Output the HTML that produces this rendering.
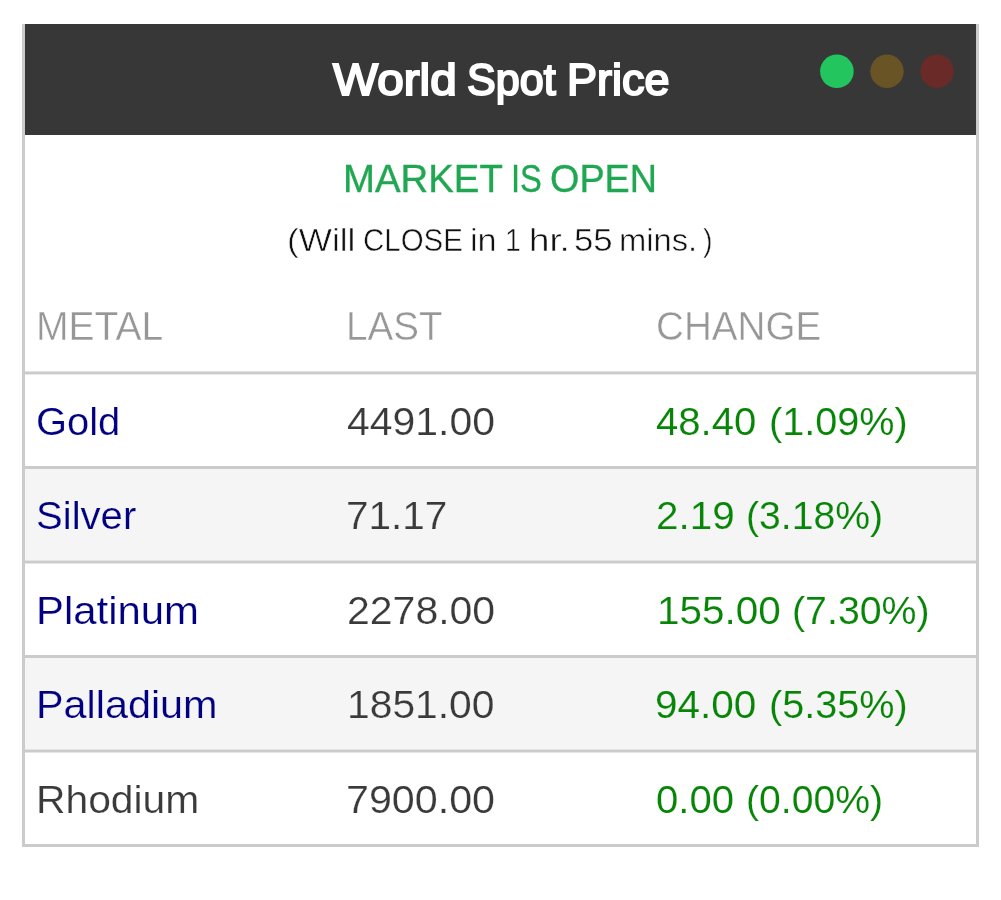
<!DOCTYPE html>
<html lang="en">
<head>
<meta charset="utf-8">
<title>World Spot Price</title>
<style>
html,body{margin:0;padding:0;background:#fff;}
body{width:1001px;height:900px;position:relative;overflow:hidden;font-family:"Liberation Sans",sans-serif;}
svg.bg{position:absolute;left:0;top:0;width:1001px;height:900px;display:block;}
.t{position:absolute;white-space:nowrap;line-height:1;transform-origin:0 0;}
</style>
</head>
<body>
<svg class="bg" width="1001" height="900" viewBox="0 0 1001 900">
<!-- striped rows -->
<rect x="25" y="469" width="951" height="91.5" fill="#f5f5f5"/>
<rect x="25" y="658" width="951" height="91.5" fill="#f5f5f5"/>
<!-- outer border: left, right, bottom -->
<rect x="22" y="24" width="3" height="823" fill="#cbcbcb"/>
<rect x="976" y="24" width="3" height="823" fill="#cbcbcb"/>
<rect x="22" y="844" width="957" height="3" fill="#cbcbcb"/>
<!-- row dividers -->
<rect x="25" y="371.45" width="951" height="2.95" fill="#cbcbcb"/>
<rect x="25" y="466" width="951" height="3" fill="#cbcbcb"/>
<rect x="25" y="560.5" width="951" height="3" fill="#cbcbcb"/>
<rect x="25" y="655" width="951" height="3" fill="#cbcbcb"/>
<rect x="25" y="749.5" width="951" height="3" fill="#cbcbcb"/>
<!-- title bar -->
<rect x="25" y="24" width="951" height="111" fill="#373737"/>
<!-- status lights -->
<circle cx="836.9" cy="71.3" r="16.8" fill="#22c55e"/>
<circle cx="887" cy="71.3" r="16.7" fill="#695426"/>
<circle cx="937" cy="71.3" r="16.7" fill="#6a2a28"/>
</svg>
<header class="title">
<span class="t" style="left:333.08px;top:57.50px;font-size:44px;font-weight:400;color:#fff;transform:scaleX(1.0843);-webkit-text-stroke:2.0px #fff">World</span>
<span class="t" style="left:466.69px;top:57.50px;font-size:44px;font-weight:400;color:#fff;transform:scaleX(0.9797);-webkit-text-stroke:2.0px #fff">Spot</span>
<span class="t" style="left:566.93px;top:57.50px;font-size:44px;font-weight:400;color:#fff;transform:scaleX(1.0223);-webkit-text-stroke:2.0px #fff">Price</span>
</header>
<div class="market-status">
<span class="t" style="left:343.25px;top:159.05px;font-size:39.3px;font-weight:400;color:#1fa751;transform:scaleX(0.9762);-webkit-text-stroke:0.35px #1fa751">MARKET</span>
<span class="t" style="left:511.38px;top:159.05px;font-size:39.3px;font-weight:400;color:#1fa751;transform:scaleX(0.8322);-webkit-text-stroke:0.35px #1fa751">IS</span>
<span class="t" style="left:549.93px;top:159.05px;font-size:39.3px;font-weight:400;color:#1fa751;transform:scaleX(0.9614);-webkit-text-stroke:0.35px #1fa751">OPEN</span>
</div>
<div class="market-countdown">
<span class="t" style="left:287.16px;top:224.91px;font-size:30.5px;font-weight:400;color:#111;transform:scaleX(1.1530);-webkit-text-stroke:0.5px #fff">(Will</span>
<span class="t" style="left:362.54px;top:224.91px;font-size:30.5px;font-weight:400;color:#111;transform:scaleX(0.9659);-webkit-text-stroke:0.5px #fff">CLOSE</span>
<span class="t" style="left:469.72px;top:224.91px;font-size:30.5px;font-weight:400;color:#111;transform:scaleX(1.1204);-webkit-text-stroke:0.5px #fff">in</span>
<span class="t" style="left:505.46px;top:224.91px;font-size:30.5px;font-weight:400;color:#111;transform:scaleX(0.9364);-webkit-text-stroke:0.5px #fff">1</span>
<span class="t" style="left:529.09px;top:224.91px;font-size:30.5px;font-weight:400;color:#111;transform:scaleX(1.2031);-webkit-text-stroke:0.5px #fff">hr.</span>
<span class="t" style="left:574.38px;top:224.91px;font-size:30.5px;font-weight:400;color:#111;transform:scaleX(1.1406);-webkit-text-stroke:0.5px #fff">55</span>
<span class="t" style="left:619.37px;top:224.91px;font-size:30.5px;font-weight:400;color:#111;transform:scaleX(1.0733);-webkit-text-stroke:0.5px #fff">mins.</span>
<span class="t" style="left:703.14px;top:224.91px;font-size:30.5px;font-weight:400;color:#111;transform:scaleX(0.9450);-webkit-text-stroke:0.5px #fff">)</span>
</div>
<div class="thead">
<span class="t" style="left:36.08px;top:306.21px;font-size:40.8px;font-weight:400;color:#979797;transform:scaleX(0.9569);-webkit-text-stroke:0.45px #fff">METAL</span>
<span class="t" style="left:345.92px;top:306.21px;font-size:40.8px;font-weight:400;color:#979797;transform:scaleX(0.9464);-webkit-text-stroke:0.45px #fff">LAST</span>
<span class="t" style="left:655.57px;top:306.21px;font-size:40.8px;font-weight:400;color:#979797;transform:scaleX(0.9466);-webkit-text-stroke:0.45px #fff">CHANGE</span>
</div>
<div class="row">
<span class="t" style="left:36.33px;top:401.60px;font-size:39px;font-weight:400;color:#000080;transform:scaleX(1.0228);-webkit-text-stroke:0.2px #fff">Gold</span>
<span class="t" style="left:346.54px;top:401.60px;font-size:39px;font-weight:400;color:#3a3a3a;transform:scaleX(1.0493);-webkit-text-stroke:0.2px #fff">4491.00</span>
<span class="t" style="left:655.67px;top:401.60px;font-size:39px;font-weight:400;color:#078507;transform:scaleX(1.0272);-webkit-text-stroke:0.15px #fff">48.40</span>
<span class="t" style="left:768.59px;top:401.60px;font-size:39px;font-weight:400;color:#078507;transform:scaleX(1.0157);-webkit-text-stroke:0.15px #fff">(1.09%)</span>
</div>
<div class="row">
<span class="t" style="left:36.19px;top:496.10px;font-size:39px;font-weight:400;color:#000080;transform:scaleX(1.0278);-webkit-text-stroke:0.2px #f5f5f5">Silver</span>
<span class="t" style="left:345.78px;top:496.10px;font-size:39px;font-weight:400;color:#3a3a3a;transform:scaleX(1.0386);-webkit-text-stroke:0.2px #f5f5f5">71.17</span>
<span class="t" style="left:655.56px;top:496.10px;font-size:39px;font-weight:400;color:#078507;transform:scaleX(1.0364);-webkit-text-stroke:0.15px #f5f5f5">2.19</span>
<span class="t" style="left:746.12px;top:496.10px;font-size:39px;font-weight:400;color:#078507;transform:scaleX(1.0043);-webkit-text-stroke:0.15px #f5f5f5">(3.18%)</span>
</div>
<div class="row">
<span class="t" style="left:35.54px;top:590.60px;font-size:39px;font-weight:400;color:#000080;transform:scaleX(1.0740);-webkit-text-stroke:0.2px #fff">Platinum</span>
<span class="t" style="left:346.63px;top:590.60px;font-size:39px;font-weight:400;color:#3a3a3a;transform:scaleX(1.0508);-webkit-text-stroke:0.2px #fff">2278.00</span>
<span class="t" style="left:656.72px;top:590.60px;font-size:39px;font-weight:400;color:#078507;transform:scaleX(1.0372);-webkit-text-stroke:0.15px #fff">155.00</span>
<span class="t" style="left:792.41px;top:590.60px;font-size:39px;font-weight:400;color:#078507;transform:scaleX(1.0081);-webkit-text-stroke:0.15px #fff">(7.30%)</span>
</div>
<div class="row">
<span class="t" style="left:35.58px;top:685.10px;font-size:39px;font-weight:400;color:#000080;transform:scaleX(1.0601);-webkit-text-stroke:0.2px #f5f5f5">Palladium</span>
<span class="t" style="left:347.29px;top:685.10px;font-size:39px;font-weight:400;color:#3a3a3a;transform:scaleX(1.0461);-webkit-text-stroke:0.2px #f5f5f5">1851.00</span>
<span class="t" style="left:654.62px;top:685.10px;font-size:39px;font-weight:400;color:#078507;transform:scaleX(1.0381);-webkit-text-stroke:0.15px #f5f5f5">94.00</span>
<span class="t" style="left:768.59px;top:685.10px;font-size:39px;font-weight:400;color:#078507;transform:scaleX(1.0157);-webkit-text-stroke:0.15px #f5f5f5">(5.35%)</span>
</div>
<div class="row">
<span class="t" style="left:35.63px;top:779.60px;font-size:39px;font-weight:400;color:#3a3a3a;transform:scaleX(1.0460);-webkit-text-stroke:0.2px #fff">Rhodium</span>
<span class="t" style="left:345.74px;top:779.60px;font-size:39px;font-weight:400;color:#3a3a3a;transform:scaleX(1.0572);-webkit-text-stroke:0.2px #fff">7900.00</span>
<span class="t" style="left:655.92px;top:779.60px;font-size:39px;font-weight:400;color:#078507;transform:scaleX(1.0278);-webkit-text-stroke:0.15px #fff">0.00</span>
<span class="t" style="left:746.12px;top:779.60px;font-size:39px;font-weight:400;color:#078507;transform:scaleX(1.0043);-webkit-text-stroke:0.15px #fff">(0.00%)</span>
</div>
</body>
</html>
